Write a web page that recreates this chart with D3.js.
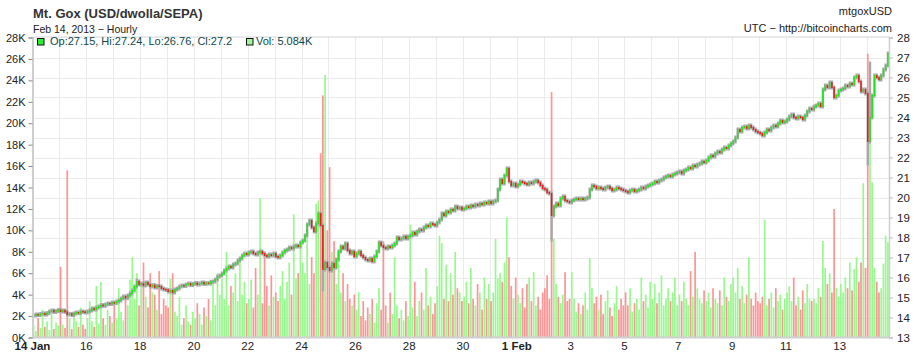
<!DOCTYPE html>
<html>
<head>
<meta charset="utf-8">
<script src="https://cdn.jsdelivr.net/npm/d3@7"></script>
<style>
  body { margin: 0; background: #fff; }
  svg { font-family: "Liberation Sans", Arial, sans-serif; }
</style>
</head>
<body>
<div id="chart"></div>
<script>
// Mt. Gox mtgoxUSD, two-hour candles, 14 Jan - 14 Feb 2013 (UTC)
const startDate = "2013-01-14T00:00:00Z";
const endDate = "2013-02-14T19:30:00Z";
const binHours = 2;
const firstOpen = 14.10;

// closing price per bin, one row per day (12 bins)
const closes = [
  14.10,14.15,14.12,14.18,14.20,14.15,14.22,14.30,14.35,14.28,14.32,14.38,
  14.30,14.35,14.28,14.15,14.18,14.12,14.20,14.25,14.22,14.30,14.28,14.25,
  14.30,14.35,14.45,14.40,14.50,14.55,14.62,14.58,14.65,14.70,14.68,14.75,
  14.72,14.80,14.85,14.95,15.05,14.98,15.10,15.20,15.35,15.55,15.80,15.65,
  15.70,15.60,15.75,15.65,15.55,15.62,15.50,15.58,15.55,15.45,15.40,15.38,
  15.30,15.35,15.25,15.40,15.45,15.55,15.60,15.58,15.65,15.70,15.62,15.68,
  15.72,15.65,15.70,15.75,15.68,15.72,15.70,15.78,15.80,15.90,16.05,16.10,
  16.20,16.35,16.45,16.55,16.50,16.65,16.70,16.85,16.95,17.10,17.20,17.15,
  17.25,17.30,17.20,17.15,17.25,17.30,17.20,17.10,17.05,17.15,17.10,17.20,
  17.05,17.00,17.10,17.25,17.35,17.40,17.50,17.45,17.55,17.60,17.55,17.75,
  17.85,18.10,18.65,18.85,18.50,18.30,18.70,19.20,18.60,16.40,16.75,16.50,
  16.35,16.70,16.50,16.90,17.30,17.55,17.45,17.70,17.35,17.20,17.30,17.05,
  17.20,17.30,17.10,17.00,16.90,16.85,16.95,16.80,17.05,17.30,17.75,17.60,
  17.50,17.45,17.55,17.50,17.60,17.70,18.00,17.90,17.95,18.05,17.95,18.05,
  18.10,18.25,18.15,18.30,18.40,18.35,18.50,18.60,18.55,18.70,18.65,18.60,
  18.75,18.90,19.20,19.10,19.30,19.25,19.40,19.35,19.55,19.45,19.50,19.40,
  19.45,19.55,19.50,19.60,19.55,19.65,19.60,19.70,19.65,19.75,19.70,19.80,
  19.70,19.80,19.85,20.40,20.90,20.70,21.10,21.45,20.80,20.60,20.70,20.55,
  20.65,20.80,20.75,20.70,20.65,20.75,20.70,20.80,20.85,20.75,20.60,20.45,
  20.40,20.25,20.20,19.10,19.55,19.70,19.60,19.95,20.05,19.85,19.80,19.75,
  19.85,19.90,19.95,19.90,19.95,19.90,19.95,20.00,20.40,20.60,20.55,20.45,
  20.50,20.45,20.40,20.50,20.55,20.45,20.35,20.40,20.50,20.45,20.40,20.35,
  20.30,20.25,20.35,20.40,20.30,20.35,20.40,20.50,20.45,20.55,20.60,20.65,
  20.70,20.80,20.75,20.85,20.90,21.00,21.05,21.10,21.05,21.15,21.20,21.25,
  21.30,21.20,21.35,21.40,21.50,21.45,21.60,21.55,21.65,21.70,21.80,21.75,
  21.85,22.00,22.10,22.05,22.20,22.30,22.25,22.40,22.50,22.45,22.60,22.70,
  22.80,23.00,23.40,23.30,23.50,23.55,23.45,23.60,23.50,23.40,23.30,23.25,
  23.20,23.10,23.25,23.40,23.35,23.50,23.60,23.55,23.70,23.85,23.75,23.80,
  23.90,24.05,24.15,24.00,23.95,24.05,24.00,23.90,24.10,24.30,24.45,24.40,
  24.55,24.60,24.70,24.55,25.40,25.60,25.50,25.75,25.50,25.00,25.10,25.35,
  25.40,25.45,25.60,25.55,25.70,25.65,26.00,26.10,25.80,25.30,25.40,25.20,
  22.80,24.00,25.10,26.10,26.00,25.90,26.10,26.40,26.60,27.20
];

// volume per bin, thousands of BTC
const volumes = [
  1.2,0.6,1.8,0.9,2.6,1.0,1.5,0.7,2.2,0.8,1.4,1.1,
  6.6,1.2,0.9,15.6,1.8,0.8,2.4,1.5,1.0,2.8,1.2,0.8,
  1.8,3.4,1.5,1.0,4.8,1.3,5.2,1.8,1.2,2.6,2.0,1.4,
  3.2,1.8,4.6,2.4,1.6,4.0,3.0,5.4,7.5,3.6,6.0,3.0,
  5.2,7.0,3.8,2.8,6.0,4.2,4.0,2.6,6.2,2.2,3.6,3.0,
  2.8,5.5,6.0,2.4,2.0,3.8,1.2,1.8,3.0,1.5,1.2,2.4,
  1.8,3.2,2.2,1.2,2.8,2.0,3.6,1.6,5.0,3.0,6.0,4.0,
  5.5,3.6,8.0,3.0,4.8,4.2,6.0,3.4,7.5,4.0,5.2,3.2,
  3.6,5.4,2.8,6.5,4.0,13.0,3.2,8.0,4.8,3.0,5.8,3.8,
  4.2,3.4,4.8,6.2,3.6,5.2,7.0,4.0,11.5,5.5,6.0,8.5,
  7.0,6.0,10.0,5.0,7.5,6.0,12.5,12.8,17.2,22.6,24.5,10.0,
  15.9,8.0,9.0,5.0,8.0,4.2,6.0,3.4,5.0,3.6,3.0,4.0,
  2.6,4.2,2.0,3.4,1.6,2.8,2.2,3.6,1.4,3.2,4.6,2.6,
  9.0,3.0,1.4,4.2,2.2,7.5,3.0,1.8,2.6,1.6,3.4,2.0,
  10.5,2.8,5.2,2.0,3.4,4.2,2.6,6.5,3.0,3.8,2.2,3.2,
  4.8,9.5,8.8,3.6,6.8,3.4,6.0,4.0,8.0,4.6,4.2,3.4,
  3.8,5.2,3.2,6.5,3.6,3.0,5.0,4.2,2.6,5.6,3.6,5.0,
  3.4,4.2,9.2,5.5,6.0,5.2,7.0,11.2,7.5,4.8,3.6,5.6,
  4.0,3.2,4.6,2.8,5.0,5.6,3.4,6.1,3.0,3.8,2.6,4.2,
  4.6,5.8,3.6,22.9,9.2,5.0,3.8,3.2,4.0,6.1,3.4,3.6,
  6.1,3.6,2.4,3.2,2.2,3.0,4.2,2.6,7.4,4.6,3.2,3.8,
  2.6,4.0,2.2,3.4,4.4,2.8,2.0,3.2,4.8,2.6,3.6,3.0,
  4.2,3.0,4.6,2.4,3.2,3.6,2.6,5.6,3.4,4.0,2.8,5.2,
  3.6,5.0,3.2,4.2,5.8,3.0,3.6,4.6,3.4,4.2,5.6,3.0,
  4.0,3.4,5.2,3.6,3.0,6.2,3.8,8.0,4.6,3.6,3.2,4.4,
  3.4,4.2,2.8,4.6,3.6,3.2,4.4,3.0,5.6,3.8,3.4,5.0,
  5.6,4.2,6.5,3.6,4.8,3.2,4.0,7.5,3.6,3.0,4.2,3.4,
  3.2,3.8,11.0,3.0,3.6,4.2,2.8,4.6,3.4,4.0,2.6,3.6,
  4.2,4.8,3.4,5.6,3.0,3.8,2.6,4.4,3.2,5.0,3.6,3.4,
  3.6,3.2,4.6,3.8,9.0,6.5,5.0,6.0,4.2,12.0,4.6,3.8,
  5.0,4.2,5.6,4.6,7.0,4.4,6.4,7.5,5.2,7.0,14.4,6.5,
  26.5,18.4,14.5,6.5,5.2,4.2,4.6,6.9,9.5,8.9
];

// long wicks (bin index, price)
const wickLows = [[129, 15.40], [231, 17.90], [372, 21.70]];
const wickHighs = [[46, 15.85], [373, 26.70]];

const volumeTicks = d3.range(0, 29, 2);      // thousands
const priceTicks = d3.range(13, 29);
const legendText = "Op:27.15, Hi:27.24, Lo:26.76, Cl:27.2";
const legendVol = "Vol: 5.084K";

const width = 921, height = 362;
const plotLeft = 32.5, plotRight = 888.5, plotTop = 37.5, plotBottom = 337.5;

const t0 = new Date(startDate);
const hour = 3600000;
const bins = closes.map((c, i) => ({
  t: new Date(t0.getTime() + (i * binHours + binHours / 2) * hour),
  open: i ? closes[i - 1] : firstOpen,
  close: c,
  vol: volumes[i] * 1000
}));
bins.forEach(d => { d.high = Math.max(d.open, d.close); d.low = Math.min(d.open, d.close); });
wickLows.forEach(([i, v]) => bins[i].low = v);
wickHighs.forEach(([i, v]) => bins[i].high = v);

const x = d3.scaleUtc().domain([t0, new Date(endDate)]).range([plotLeft, plotRight]);
const yVol = d3.scaleLinear().domain([0, 28000]).range([plotBottom, plotTop]);
const yPrice = d3.scaleLinear().domain([13, 28]).range([plotBottom, plotTop]);

const svg = d3.select("#chart").append("svg")
  .attr("width", width).attr("height", height)
  .attr("viewBox", [0, 0, width, height]);

// grid
const days = d3.utcDay.range(d3.utcDay.offset(t0, 1), new Date(endDate));
svg.append("g").attr("stroke", "#ebebeb").attr("stroke-width", 1)
  .selectAll("line").data(days).join("line")
    .attr("x1", d => Math.round(x(d)) + 0.5).attr("x2", d => Math.round(x(d)) + 0.5)
    .attr("y1", plotTop).attr("y2", plotBottom);
svg.append("g").attr("stroke", "#ebebeb").attr("stroke-width", 1)
  .selectAll("line").data(priceTicks.slice(1, -1)).join("line")
    .attr("x1", plotLeft).attr("x2", plotRight)
    .attr("y1", d => Math.round(yPrice(d)) + 0.5).attr("y2", d => Math.round(yPrice(d)) + 0.5);

// volume bars
svg.append("g").selectAll("rect").data(bins).join("rect")
  .attr("x", d => x(d.t) - 0.85)
  .attr("width", 1.7)
  .attr("y", d => yVol(d.vol))
  .attr("height", d => plotBottom - yVol(d.vol))
  .attr("fill", d => d.close >= d.open ? "#98f98e" : "#ff9494");

// candles: gray wick, coloured body
const candles = svg.append("g");
candles.selectAll("line").data(bins).join("line")
  .attr("x1", d => x(d.t)).attr("x2", d => x(d.t))
  .attr("y1", d => yPrice(d.high) - 2).attr("y2", d => yPrice(d.low) + 2)
  .attr("stroke", "#a8a8a8").attr("stroke-width", 2.4);
candles.selectAll("rect").data(bins).join("rect")
  .attr("x", d => x(d.t) - 0.75)
  .attr("width", 1.5)
  .attr("y", d => yPrice(Math.max(d.open, d.close)) - 0.5)
  .attr("height", d => Math.abs(yPrice(d.open) - yPrice(d.close)) + 1)
  .attr("fill", d => d.close >= d.open ? "#1ee61e" : "#f01818");

// frame
svg.append("line").attr("x1", plotLeft).attr("x2", plotRight + 1)
  .attr("y1", plotTop - 0.5).attr("y2", plotTop - 0.5).attr("stroke", "#d4d4d4");
svg.append("line").attr("x1", plotLeft - 1).attr("x2", plotRight + 1)
  .attr("y1", plotBottom).attr("y2", plotBottom).attr("stroke", "#cfcfcf").attr("stroke-width", 2);

// left axis (volume)
svg.append("g")
  .attr("transform", `translate(${plotLeft},0)`)
  .call(d3.axisLeft(yVol).tickValues(volumeTicks.map(v => v * 1000)).tickSize(4).tickPadding(3)
    .tickFormat(d => d / 1000 + "K"))
  .call(g => g.select(".domain").attr("stroke", "#cfcfcf").attr("stroke-width", 2))
  .call(g => g.selectAll(".tick line").attr("stroke", "#888"))
  .call(g => g.selectAll(".tick text").attr("fill", "#222").attr("font-size", 11));

// right axis (price)
svg.append("g")
  .attr("transform", `translate(${plotRight + 0.5},0)`)
  .call(d3.axisRight(yPrice).tickValues(priceTicks).tickSize(4).tickPadding(4))
  .call(g => g.select(".domain").attr("stroke", "#cfcfcf").attr("stroke-width", 1.5))
  .call(g => g.selectAll(".tick line").attr("stroke", "#bbb"))
  .call(g => g.selectAll(".tick text").attr("fill", "#222").attr("font-size", 11.5));

// bottom axis (dates every two days)
const dateTicks = d3.utcDay.range(t0, new Date(endDate)).filter(d => d3.utcDay.count(t0, d) % 2 === 0);
svg.append("g").selectAll("text").data(dateTicks).join("text")
  .attr("x", d => x(d)).attr("y", 349.5)
  .attr("text-anchor", "middle")
  .attr("font-size", 11.5)
  .attr("fill", "#222")
  .attr("font-weight", (d, i) => (i === 0 || d.getUTCDate() === 1) ? "bold" : null)
  .text((d, i) => (i === 0 || d.getUTCDate() === 1) ? d3.utcFormat("%-d %b")(d) : d3.utcFormat("%-d")(d));

// titles
svg.append("text").attr("x", 33).attr("y", 18).attr("font-size", 13).attr("font-weight", "bold")
  .attr("fill", "#333").text("Mt. Gox (USD/dwolla/SEPA)");
svg.append("text").attr("x", 33).attr("y", 32.5).attr("font-size", 10.5).attr("fill", "#222")
  .text("Feb 14, 2013 \u2212 Hourly");
svg.append("text").attr("x", 892).attr("y", 15).attr("text-anchor", "end").attr("font-size", 11)
  .attr("fill", "#222").text("mtgoxUSD");
svg.append("text").attr("x", 892).attr("y", 32).attr("text-anchor", "end").attr("font-size", 11)
  .attr("fill", "#222").text("UTC \u2212 http://bitcoincharts.com");

// legend
const legend = svg.append("g");
legend.append("rect").attr("x", 37.5).attr("y", 38.5).attr("width", 6.5).attr("height", 6.5)
  .attr("fill", "#2ef02e").attr("stroke", "#111");
legend.append("text").attr("x", 50).attr("y", 44.5).attr("font-size", 11).attr("fill", "#0b4a4a").text(legendText);
legend.append("rect").attr("x", 246.5).attr("y", 38.5).attr("width", 6.5).attr("height", 6.5)
  .attr("fill", "#a0f59a").attr("stroke", "#111");
legend.append("text").attr("x", 256).attr("y", 44.5).attr("font-size", 11).attr("fill", "#0b4a4a").text(legendVol);
</script>
</body>
</html>
